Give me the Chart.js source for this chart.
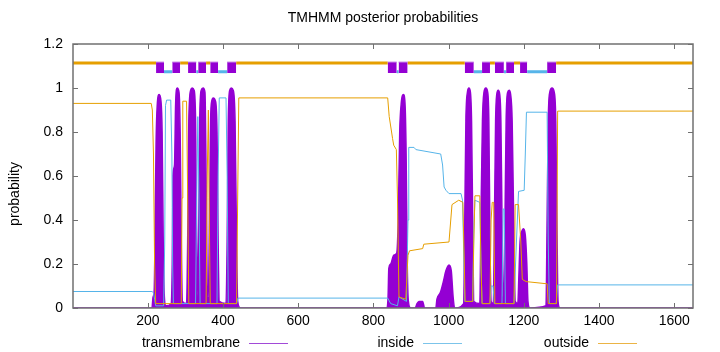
<!DOCTYPE html>
<html lang="en">
<head>
<meta charset="UTF-8" />
<title>TMHMM posterior probabilities</title>
<style>
  html, body { margin: 0; padding: 0; background: #fff; }
  #tmChart { display: block; }
</style>
</head>
<body>
<canvas id="tmChart" width="720" height="352"></canvas>
<script src="https://cdn.jsdelivr.net/npm/chart.js"></script>
<script>
// titres et axes
const chartTitle = 'TMHMM posterior probabilities';
const yTitle = 'probability';
const seriesNames = ['transmembrane', 'inside', 'outside'];
const xTicks = [200, 400, 600, 800, 1000, 1200, 1400, 1600];
const yTicks = [0, 0.2, 0.4, 0.6, 0.8, 1, 1.2];
const seqLength = 1650;

// probabilité transmembranaire
const tmPos = [1, 211, 214, 217, 219, 222, 225, 230, 235, 238, 241, 244, 248,
  262, 265, 267, 271, 274, 278, 283, 286, 289, 292,
  303, 306, 309, 314, 318, 323, 327, 330, 333, 335, 338, 342, 347, 352, 355, 358,
  361, 364, 367, 370, 374, 380, 384, 387, 390,
  408, 411, 414, 418, 422, 427, 432, 436, 439, 446,
  836, 839, 841, 846, 854, 862, 866, 870, 874, 880, 884, 887, 890, 893, 899,
  911, 916, 921, 931, 936,
  966, 969, 978, 986, 993, 1001, 1007, 1012, 1016,
  1040, 1043, 1046, 1050, 1054, 1058, 1061, 1064, 1067,
  1083, 1086, 1090, 1094, 1099, 1104, 1107, 1110, 1113,
  1119, 1122, 1125, 1128, 1132, 1136, 1139, 1142, 1145, 1147, 1150, 1153, 1157, 1161, 1165, 1169, 1173, 1177,
  1184, 1187, 1190, 1195, 1199, 1204, 1208, 1211, 1216,
  1259, 1262, 1265, 1269, 1275, 1281, 1285, 1288, 1291, 1296, 1650];
const tmProb = [0, 0, 0.05, 0.08, 0.3, 0.75, 0.92, 0.97, 0.94, 0.8, 0.3, 0.05, 0.01,
  0.02, 0.2, 0.6, 0.65, 0.93, 1.0, 0.98, 0.8, 0.3, 0.03,
  0.02, 0.3, 0.85, 0.99, 1.0, 0.99, 0.85, 0.3, 0.05, 0.3, 0.85, 0.99, 1.0, 0.98, 0.6, 0.08,
  0.05, 0.4, 0.85, 0.94, 0.955, 0.94, 0.8, 0.3, 0.03,
  0.02, 0.3, 0.85, 0.99, 1.0, 0.99, 0.85, 0.3, 0.03, 0,
  0, 0.05, 0.18, 0.2, 0.24, 0.25, 0.4, 0.8, 0.93, 0.97, 0.93, 0.7, 0.2, 0.03, 0,
  0, 0.02, 0.03, 0.03, 0,
  0, 0.04, 0.07, 0.12, 0.17, 0.195, 0.17, 0.05, 0,
  0.02, 0.4, 0.85, 0.98, 1.0, 0.98, 0.85, 0.4, 0.03,
  0.02, 0.4, 0.85, 0.98, 1.0, 0.98, 0.85, 0.3, 0.03,
  0.02, 0.4, 0.85, 0.97, 0.99, 0.97, 0.85, 0.4, 0.05, 0.05, 0.4, 0.85, 0.98, 0.99, 0.97, 0.85, 0.4, 0.03,
  0.02, 0.15, 0.3, 0.35, 0.36, 0.33, 0.2, 0.03, 0,
  0.01, 0.4, 0.85, 0.98, 1.0, 0.98, 0.85, 0.4, 0.03, 0, 0];

// probabilité "inside"
const inPos = [1, 211, 215, 218, 221, 242, 245, 247, 250, 261, 264, 266, 268,
  327, 330, 333, 336, 339, 384, 387, 390, 408, 411, 414, 436, 440,
  838, 846, 864, 868, 888, 892, 894, 908, 913, 979, 984, 988, 993, 1001, 1033, 1037, 1043,
  1064, 1067, 1070, 1083, 1086, 1089, 1110, 1113, 1118, 1122, 1142, 1145, 1148, 1151,
  1174, 1178, 1186, 1201, 1204, 1207, 1262, 1265, 1268, 1286, 1290, 1650];
const inProb = [0.075, 0.075, 0.07, 0.04, 0.01, 0.01, 0.3, 0.92, 0.945, 0.945, 0.7, 0.2, 0.02,
  0.02, 0.5, 0.87, 0.5, 0.02, 0.02, 0.6, 0.955, 0.955, 0.6, 0.02, 0.02, 0.045,
  0.045, 0.02, 0.01, 0.05, 0.03, 0.4, 0.73, 0.73, 0.72, 0.70, 0.65, 0.55, 0.535, 0.52, 0.52, 0.49, 0.03,
  0.03, 0.35, 0.49, 0.48, 0.2, 0.02, 0.02, 0.1, 0.1, 0.02, 0.02, 0.45, 0.45, 0.02,
  0.02, 0.2, 0.53, 0.535, 0.7, 0.89, 0.89, 0.3, 0.02, 0.02, 0.105, 0.105];

// probabilité "outside"
const outPos = [1, 209, 212, 215, 218, 221, 289, 291, 293, 303, 306, 309,
  355, 358, 361, 363, 366, 436, 439, 442,
  838, 842, 851, 854, 861, 864, 868, 886, 892, 896, 931, 934, 1001, 1009, 1027, 1038, 1044,
  1064, 1067, 1070, 1083, 1086, 1089, 1110, 1113, 1116, 1120, 1123,
  1174, 1177, 1186, 1192, 1196, 1206, 1262, 1265, 1287, 1290, 1650];
const outProb = [0.93, 0.93, 0.9, 0.7, 0.2, 0.02, 0.02, 0.5, 0.94, 0.94, 0.5, 0.02,
  0.02, 0.6, 0.9, 0.5, 0.02, 0.02, 0.5, 0.955,
  0.955, 0.87, 0.77, 0.74, 0.72, 0.5, 0.05, 0.04, 0.24, 0.26, 0.27, 0.29, 0.30, 0.47, 0.49, 0.48, 0.03,
  0.03, 0.3, 0.51, 0.51, 0.2, 0.02, 0.02, 0.4, 0.48, 0.48, 0.02,
  0.02, 0.47, 0.47, 0.3, 0.13, 0.12, 0.11, 0.02, 0.02, 0.895, 0.895];

// hélices prédites (barre du haut), le N-terminal est "outside"
const helixStart = [222, 265, 307, 334, 366, 411, 838, 867, 1043, 1089, 1123, 1153, 1190, 1262];
const helixEnd   = [243, 286, 329, 355, 387, 435, 862, 891, 1067, 1110, 1147, 1174, 1209, 1286];
const outsideLevel = 1.114;
const insideLevel = 1.074;
const helixLow = 1.068;
const helixHigh = 1.118;

const purple = '#9400D3';
const blue = '#56B4E9';
const orange = '#E69F00';
const font = 'Liberation Sans, Arial, sans-serif';
const fontSize = 14;

const toPoints = (xs, ys) => xs.map((x, i) => ({ x: x, y: ys[i] }));

// segments de topologie entre les hélices
const outsideSeg = [];
const insideSeg = [];
let prev = 1;
helixStart.forEach((s, i) => {
  const target = i % 2 === 0 ? outsideSeg : insideSeg;
  const lvl = i % 2 === 0 ? outsideLevel : insideLevel;
  target.push({ x: prev, y: lvl }, { x: s, y: lvl }, { x: s, y: null });
  prev = helixEnd[i];
});
outsideSeg.push({ x: prev, y: outsideLevel }, { x: seqLength, y: outsideLevel });

const helixSets = helixStart.map((s, i) => ({
  data: [{ x: s, y: helixHigh }, { x: helixEnd[i], y: helixHigh }],
  borderColor: '#c98ae8',
  borderWidth: 1,
  backgroundColor: purple,
  fill: { value: helixLow },
  pointRadius: 0,
  order: 0
}));

const frame = {
  id: 'frame',
  afterDatasetsDraw(chart) {
    const { ctx, chartArea: a, scales } = chart;
    ctx.save();
    ctx.strokeStyle = '#707070';
    ctx.lineWidth = 1;
    ctx.beginPath();
    xTicks.forEach(v => {
      const px = Math.round(scales.x.getPixelForValue(v)) + 0.5;
      ctx.moveTo(px, a.bottom); ctx.lineTo(px, a.bottom - 5);
      ctx.moveTo(px, a.top); ctx.lineTo(px, a.top + 5);
    });
    yTicks.forEach(v => {
      const py = Math.round(scales.y.getPixelForValue(v)) + 0.5;
      ctx.moveTo(a.left, py); ctx.lineTo(a.left + 5, py);
      ctx.moveTo(a.right, py); ctx.lineTo(a.right - 5, py);
    });
    ctx.stroke();
    ctx.lineWidth = 1.5;
    ctx.strokeRect(a.left, a.top, a.right - a.left, a.bottom - a.top);
    ctx.restore();
  },
  afterDraw(chart) {
    const { ctx, chartArea: a } = chart;
    ctx.save();
    ctx.fillStyle = '#000';
    ctx.font = fontSize + 'px ' + font;
    ctx.textAlign = 'center';
    ctx.textBaseline = 'middle';
    ctx.fillText(chartTitle, (a.left + a.right) / 2, 18);
    ctx.save();
    ctx.translate(15, 194);
    ctx.rotate(-Math.PI / 2);
    ctx.fillText(yTitle, 0, 0);
    ctx.restore();
    // légende horizontale à la gnuplot
    const keyEnds = [240, 414, 589];
    const keyColors = ['#a24ad8', '#7cc4ea', '#ebb445'];
    ctx.textAlign = 'right';
    seriesNames.forEach((name, i) => {
      ctx.fillStyle = '#000';
      ctx.fillText(name, keyEnds[i], 343);
      ctx.strokeStyle = keyColors[i];
      ctx.lineWidth = 1;
      ctx.beginPath();
      ctx.moveTo(keyEnds[i] + 9, 343.5);
      ctx.lineTo(keyEnds[i] + 48, 343.5);
      ctx.stroke();
    });
    ctx.restore();
  }
};

new Chart(document.getElementById('tmChart'), {
  type: 'line',
  data: {
    datasets: [
      ...helixSets,
      { label: 'outside top', data: outsideSeg, borderColor: orange, borderWidth: 3, pointRadius: 0, spanGaps: false, order: 1 },
      { label: 'inside top', data: insideSeg, borderColor: blue, borderWidth: 3, pointRadius: 0, spanGaps: false, order: 1 },
      { label: seriesNames[2], data: toPoints(outPos, outProb), borderColor: orange, borderWidth: 1, pointRadius: 0, order: 2 },
      { label: seriesNames[1], data: toPoints(inPos, inProb), borderColor: blue, borderWidth: 1, pointRadius: 0, order: 3 },
      { label: seriesNames[0], data: toPoints(tmPos, tmProb), borderColor: purple, backgroundColor: purple,
        borderWidth: 1.5, fill: 'origin', pointRadius: 0, cubicInterpolationMode: 'monotone', order: 5 }
    ]
  },
  options: {
    responsive: false,
    animation: false,
    devicePixelRatio: 1,
    layout: { padding: { top: 44, right: 27, left: 0, bottom: 0 } },
    plugins: { legend: { display: false }, tooltip: { enabled: false } },
    scales: {
      x: {
        type: 'linear', min: 1, max: seqLength,
        afterBuildTicks: s => { s.ticks = xTicks.map(v => ({ value: v })); },
        afterFit: s => { s.height = 44; },
        grid: { display: false, drawTicks: false },
        border: { display: false },
        ticks: { color: '#000', font: { family: font, size: fontSize }, padding: 5, maxRotation: 0, callback: v => String(v) }
      },
      y: {
        min: 0, max: 1.2,
        afterBuildTicks: s => { s.ticks = yTicks.map(v => ({ value: v })); },
        afterFit: s => { s.width = 73; },
        grid: { display: false, drawTicks: false },
        border: { display: false },
        ticks: { color: '#000', font: { family: font, size: fontSize }, padding: 10, callback: v => String(v) }
      }
    }
  },
  plugins: [frame]
});
</script>
</body>
</html>
